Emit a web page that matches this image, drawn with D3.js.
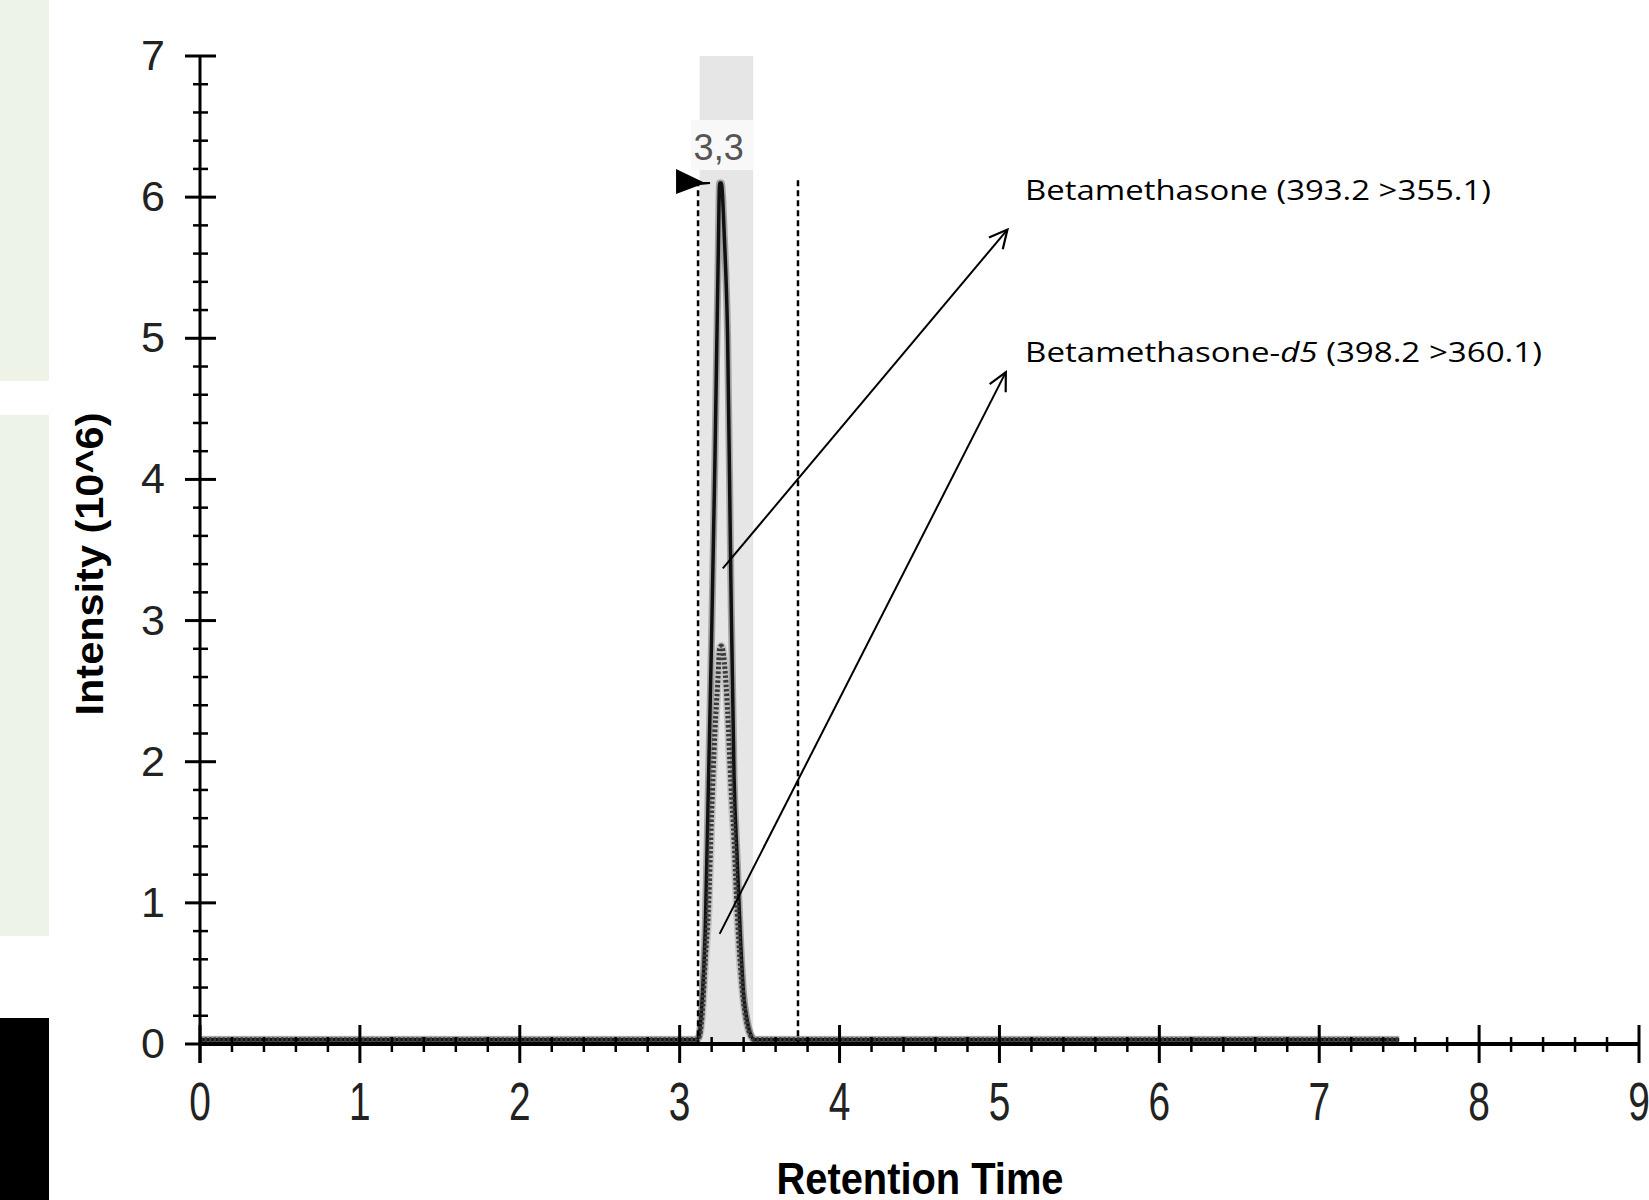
<!DOCTYPE html>
<html>
<head>
<meta charset="utf-8">
<script src="https://cdn.jsdelivr.net/npm/d3@7"></script>
<style>html,body{margin:0;padding:0;background:#fff;overflow:hidden}</style>
</head>
<body>
<div id="chart"></div>
<script>
// retention time (min) and intensity (10^6) of the two MRM traces
const rt = [0, 3.10, 3.12, 3.14, 3.16, 3.18, 3.20, 3.22, 3.24, 3.25, 3.26, 3.28, 3.30, 3.32, 3.34, 3.36, 3.38, 3.40, 3.42, 3.44, 3.47, 7.5];
const betamethasone = [0.03, 0.03, 0.05, 0.3, 0.8, 1.85, 2.9, 4.1, 5.5, 6.1, 6.1, 5.7, 5.0, 3.3, 1.9, 1.3, 0.75, 0.35, 0.18, 0.08, 0.03, 0.03];
const betamethasoneD5 = [0.03, 0.03, 0.05, 0.2, 0.6, 0.95, 1.64, 2.2, 2.6, 2.8, 2.82, 2.7, 2.35, 1.85, 1.45, 0.93, 0.55, 0.3, 0.15, 0.07, 0.03, 0.03];
const xTicks = [0, 1, 2, 3, 4, 5, 6, 7, 8, 9];
const yTicks = [0, 1, 2, 3, 4, 5, 6, 7];
const peakWindow = [3.125, 3.46];
const integrationLimits = [3.115, 3.74];
const peakRt = 3.25, peakTop = 6.1, peakLabel = '3,3';
// annotations: compound, italic part, transition, arrow start / end, label anchor (data units)
const annoNames = ['Betamethasone', 'Betamethasone-'];
const annoItalic = ['', 'd5'];
const annoMrm = [' (393.2 >355.1)', ' (398.2 >360.1)'];
const annoFrom = [[3.27, 3.37], [3.25, 0.78]];
const annoTo = [[5.05, 5.77], [5.04, 4.76]];
const annoAt = [[5.16, 5.98], [5.16, 4.83]];

const W = 1649, H = 1200, m = { t: 56, r: 10, b: 156, l: 200 };
const AX = 'Liberation Sans, Arial, sans-serif';
const svg = d3.select('#chart').append('svg').attr('width', W).attr('height', H);

// side strips from the slide
svg.append('rect').attr('x', 0).attr('y', 0).attr('width', 49).attr('height', 381).attr('fill', '#eef3e8');
svg.append('rect').attr('x', 0).attr('y', 415).attr('width', 49).attr('height', 521).attr('fill', '#eef3e8');
svg.append('rect').attr('x', 0).attr('y', 1018).attr('width', 49).attr('height', 182).attr('fill', '#000');

const x = d3.scaleLinear().domain([0, 9]).range([m.l, W - m.r]);
const y = d3.scaleLinear().domain([0, 7]).range([H - m.b, m.t]);

// peak window shading + label box
svg.append('rect').attr('x', x(peakWindow[0])).attr('y', y(7))
  .attr('width', x(peakWindow[1]) - x(peakWindow[0])).attr('height', y(0) - y(7)).attr('fill', '#e6e6e6');
svg.append('rect').attr('x', x(3.07)).attr('y', 120).attr('width', x(peakWindow[1]) - x(3.07)).attr('height', 50).attr('fill', '#f8f8f8');
svg.append('text').attr('x', x(peakRt) - 1).attr('y', 160).attr('text-anchor', 'middle')
  .attr('font-family', AX).attr('font-size', 36).attr('fill', '#555').text(peakLabel);

// traces
const pts = (vals) => rt.map((t, i) => [t, vals[i]]);
const line = d3.line().x((d) => x(d[0])).y((d) => y(d[1])).curve(d3.curveMonotoneX);
svg.append('path').attr('d', line(pts(betamethasoneD5))).attr('fill', 'none').attr('stroke', '#999').attr('stroke-width', 8).attr('opacity', 0.45);
svg.append('path').attr('d', line(pts(betamethasone))).attr('fill', 'none').attr('stroke', '#777').attr('stroke-width', 7).attr('opacity', 0.6);
svg.append('path').attr('d', line(pts(betamethasone))).attr('fill', 'none').attr('stroke', '#111').attr('stroke-width', 3.5);
svg.append('path').attr('d', line(pts(betamethasoneD5))).attr('fill', 'none').attr('stroke', '#3a3a3a')
  .attr('stroke-width', 5).attr('stroke-dasharray', '2.5,2');

// integration limits
svg.append('g').selectAll('line').data(integrationLimits).join('line')
  .attr('x1', (d) => x(d)).attr('x2', (d) => x(d)).attr('y1', y(6.12)).attr('y2', y(0))
  .attr('stroke', '#000').attr('stroke-width', 2.5).attr('stroke-dasharray', '6,4');

// axes
const minors = (max) => d3.range(0, max * 5 + 1).map((i) => i / 5).filter((v) => Math.abs(v - Math.round(v)) > 1e-6);
svg.append('line').attr('x1', x(0)).attr('x2', x(9)).attr('y1', y(0)).attr('y2', y(0)).attr('stroke', '#000').attr('stroke-width', 4);
svg.append('line').attr('x1', x(0)).attr('x2', x(0)).attr('y1', y(7)).attr('y2', y(0) + 19).attr('stroke', '#000').attr('stroke-width', 3);
svg.append('g').selectAll('line').data(xTicks).join('line')
  .attr('x1', x).attr('x2', x).attr('y1', y(0) - 19).attr('y2', y(0) + 19).attr('stroke', '#000').attr('stroke-width', 3);
svg.append('g').selectAll('line').data(minors(9)).join('line')
  .attr('x1', x).attr('x2', x).attr('y1', y(0) - 7).attr('y2', y(0) + 8).attr('stroke', '#000').attr('stroke-width', 2.5);
svg.append('g').selectAll('line').data(yTicks).join('line')
  .attr('x1', x(0) - 15).attr('x2', x(0) + 16).attr('y1', y).attr('y2', y).attr('stroke', '#000').attr('stroke-width', 3);
svg.append('g').selectAll('line').data(minors(7)).join('line')
  .attr('x1', x(0) - 7).attr('x2', x(0) + 8).attr('y1', y).attr('y2', y).attr('stroke', '#000').attr('stroke-width', 2.5);
// x tick labels are tall and condensed in the source
svg.append('g').selectAll('text').data(xTicks).join('text')
  .attr('transform', (d) => `translate(${x(d)},${y(0) + 76}) scale(0.72,1)`).attr('text-anchor', 'middle')
  .attr('font-family', AX).attr('font-size', 54).attr('fill', '#222').text((d) => d);
svg.append('g').selectAll('text').data(yTicks).join('text')
  .attr('x', x(0) - 35).attr('y', (d) => y(d) + 14).attr('text-anchor', 'end')
  .attr('font-family', AX).attr('font-size', 43).attr('fill', '#222').text((d) => d);
svg.append('text').attr('x', (x(0) + x(9)) / 2 + 0.5).attr('y', 1194).attr('text-anchor', 'middle')
  .attr('font-family', AX).attr('font-weight', 700).attr('font-size', 44).attr('fill', '#000')
  .attr('textLength', 287).attr('lengthAdjust', 'spacingAndGlyphs').text('Retention Time');
svg.append('text').attr('transform', 'translate(103,564) rotate(-90)').attr('text-anchor', 'middle')
  .attr('font-family', AX).attr('font-weight', 700).attr('font-size', 39).attr('fill', '#000')
  .attr('textLength', 303).attr('lengthAdjust', 'spacingAndGlyphs').text('Intensity (10^6)');

// apex flag
const fx = x(3.19), fy = y(peakTop);
svg.append('path')
  .attr('d', `M${fx - 34},${fy - 14} L${fx - 7},${fy - 1} L${fx},${fy - 1} L${fx},${fy + 1} L${fx - 10},${fy + 2} L${fx - 34},${fy + 11} Z`)
  .attr('fill', '#000');

// annotations
svg.append('defs').append('marker').attr('id', 'arr').attr('markerUnits', 'userSpaceOnUse')
  .attr('viewBox', '-20 -11 22 22').attr('refX', 0).attr('refY', 0)
  .attr('markerWidth', 22).attr('markerHeight', 22).attr('orient', 'auto')
  .append('path').attr('d', 'M-18,-9 L0,0 L-18,9').attr('fill', 'none').attr('stroke', '#000').attr('stroke-width', 2.2);
annoNames.forEach((name, i) => {
  svg.append('line').attr('x1', x(annoFrom[i][0])).attr('y1', y(annoFrom[i][1]))
    .attr('x2', x(annoTo[i][0])).attr('y2', y(annoTo[i][1]))
    .attr('stroke', '#000').attr('stroke-width', 2).attr('marker-end', 'url(#arr)');
  const t = svg.append('text').attr('x', x(annoAt[i][0])).attr('y', y(annoAt[i][1]))
    .attr('font-family', 'Open Sans, Lato, sans-serif').attr('font-size', 28).attr('fill', '#000')
    .attr('textLength', i === 0 ? 466 : 517).attr('lengthAdjust', 'spacingAndGlyphs');
  t.append('tspan').text(name);
  if (annoItalic[i]) t.append('tspan').attr('font-style', 'italic').text(annoItalic[i]);
  t.append('tspan').text(annoMrm[i]);
});
</script>
</body>
</html>
